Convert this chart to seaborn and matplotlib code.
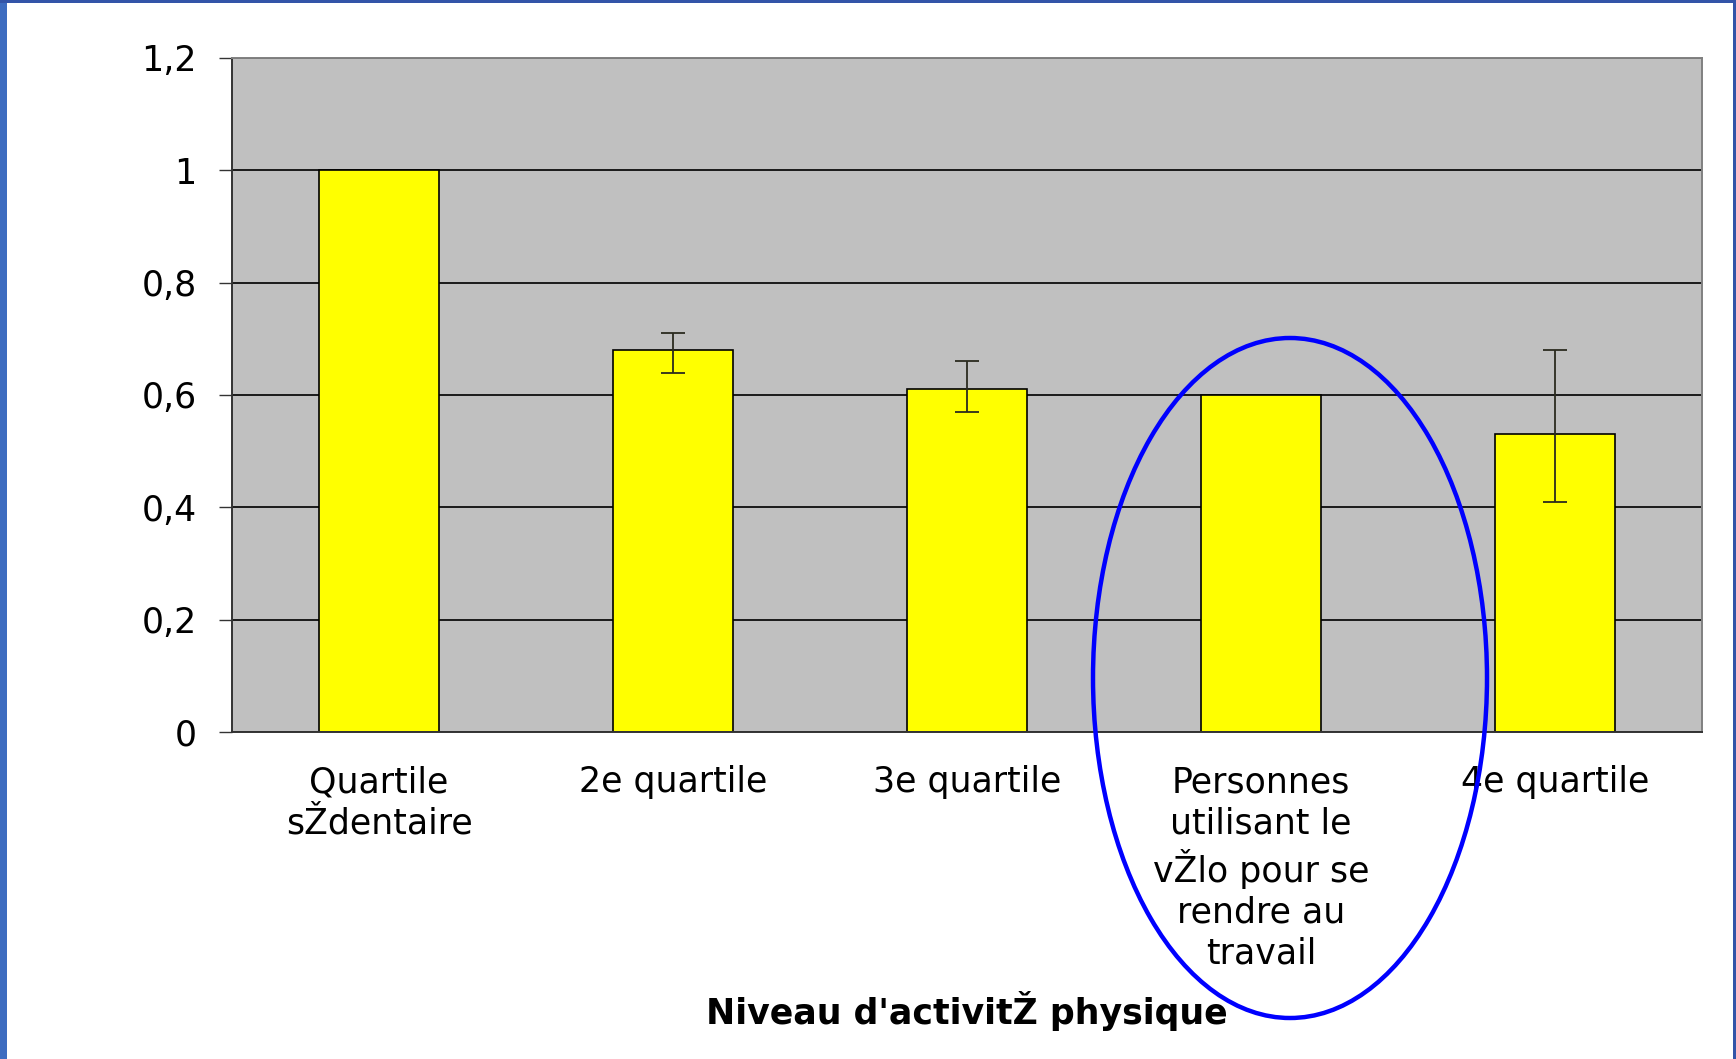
import pandas as pd
import seaborn as sns
import matplotlib.pyplot as plt
from matplotlib.patches import Ellipse, Rectangle

# data
categories = ["Quartile\nsŽdentaire", "2e quartile", "3e quartile",
              "Personnes\nutilisant le\nvŽlo pour se\nrendre au\ntravail", "4e quartile"]
values = [1.0, 0.68, 0.61, 0.60, 0.53]
err_low = [0.0, 0.04, 0.04, 0.0, 0.12]
err_high = [0.0, 0.03, 0.05, 0.0, 0.15]
has_err = [False, True, True, False, True]
yticks = [0, 0.2, 0.4, 0.6, 0.8, 1.0, 1.2]
ytick_labels = ["0", "0,2", "0,4", "0,6", "0,8", "1", "1,2"]
xlabel = "Niveau d'activitŽ physique"

sns.set_style("white")
plt.rcParams["font.family"] = ["DejaVu Sans"]
plt.rcParams["text.color"] = "black"
plt.rcParams["xtick.color"] = "black"
plt.rcParams["ytick.color"] = "black"
plt.rcParams["axes.labelcolor"] = "black"

FS = 25

df = pd.DataFrame({"cat": categories, "val": values})

fig = plt.figure(figsize=(17.36, 10.59), dpi=100)
ax = fig.add_axes([232 / 1736, 1 - 732 / 1059, 1470 / 1736, 674 / 1059])
ax.set_facecolor("#C0C0C0")

sns.barplot(data=df, x="cat", y="val", color="#FFFF00", saturation=1,
            edgecolor="black", linewidth=1.2, width=0.41, ax=ax, zorder=2)

# error bars (only where present)
idx = [i for i, h in enumerate(has_err) if h]
ax.errorbar(idx, [values[i] for i in idx],
            yerr=[[err_low[i] for i in idx], [err_high[i] for i in idx]],
            fmt="none", ecolor="#2b2b1f", elinewidth=1.3, capsize=8.3,
            capthick=1.3, zorder=3)

ax.set_xlim(-0.5, len(categories) - 0.5)
ax.set_ylim(0, 1.2)
ax.set_yticks(yticks)
ax.set_yticklabels(ytick_labels, fontsize=FS)
ax.yaxis.grid(True, color="#1a1a1a", linewidth=1.4, zorder=1)
ax.set_axisbelow(True)

# category labels centred, tick marks on category boundaries
ax.set_xticks(range(len(categories)))
ax.set_xticklabels(categories, fontsize=FS, linespacing=1.26, va="top")
ax.set_xticks([i - 0.5 for i in range(len(categories) + 1)], minor=True)
ax.tick_params(axis="x", which="major", length=0, pad=24)
ax.tick_params(axis="x", which="minor", length=7, width=1, color="#333333", direction="out")
ax.tick_params(axis="y", length=9.5, width=1, color="#333333", direction="out", pad=16, left=True)
ax.set_xlabel(xlabel, fontsize=FS, fontweight="bold")
ax.xaxis.set_label_coords(0.5, (732 - 1011) / 674)
ax.xaxis.label.set_va("center")
ax.set_ylabel("")

for s in ["left", "bottom"]:
    ax.spines[s].set_color("#333333")
    ax.spines[s].set_linewidth(1.4)
for s in ["right", "top"]:
    ax.spines[s].set_color("#808080")
    ax.spines[s].set_linewidth(1.4)
    ax.spines[s].set_visible(True)

# window frame strips
fig.patches.append(Rectangle((0, 0), 7 / 1736, 1, transform=fig.transFigure,
                             facecolor="#3d6cc0", edgecolor="none", zorder=0))
fig.patches.append(Rectangle((0, 1 - 3 / 1059), 1, 3 / 1059, transform=fig.transFigure,
                             facecolor="#3354a8", edgecolor="none", zorder=0))
fig.patches.append(Rectangle((1 - 3 / 1736, 0), 3 / 1736, 1, transform=fig.transFigure,
                             facecolor="#3354a8", edgecolor="none", zorder=0))

# highlight ellipse around the cycling group
fig.patches.append(Ellipse((1290 / 1736, 1 - 678 / 1059), 394 / 1736, 680 / 1059,
                           transform=fig.transFigure, fill=False,
                           edgecolor="#0000ff", linewidth=3.2, zorder=10))

fig.savefig("out.png", dpi=100)
